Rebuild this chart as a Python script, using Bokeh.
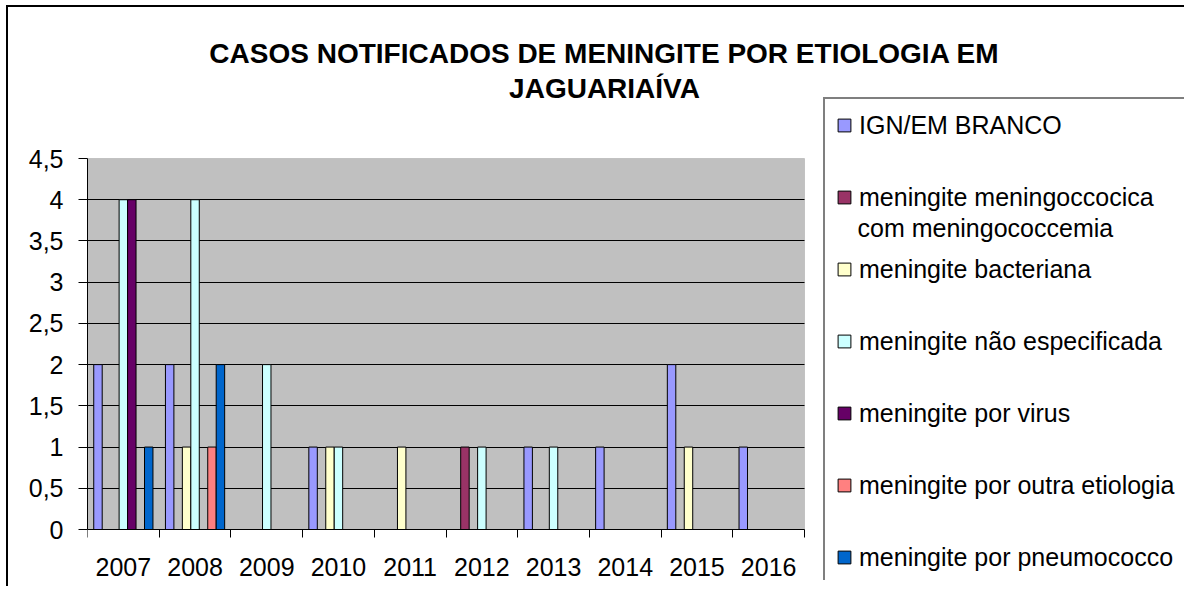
from bokeh.plotting import figure
from bokeh.models import (Range1d, FixedTicker, CustomJSTickFormatter, Label,
                          BoxAnnotation, ColumnDataSource)
from bokeh.transform import dodge
from bokeh.embed import file_html
from bokeh.resources import INLINE

# ---------------- data ----------------
years = ["2007", "2008", "2009", "2010", "2011", "2012", "2013", "2014", "2015", "2016"]
series_names = [
    "IGN/EM BRANCO",
    "meningite meningoccocica",
    "meningite bacteriana",
    "meningite não especificada",
    "meningite por virus",
    "meningite por outra etiologia",
    "meningite por pneumococco",
]
series_name_2nd_line = "com meningococcemia"   # second line of legend entry 2
ign = [2, 2, 0, 1, 0, 0, 1, 1, 2, 1]
meningococcica = [0, 0, 0, 0, 0, 1, 0, 0, 0, 0]
bacteriana = [0, 1, 0, 1, 1, 0, 0, 0, 1, 0]
nao_especificada = [4, 4, 2, 1, 0, 1, 1, 0, 0, 0]
por_virus = [4, 0, 0, 0, 0, 0, 0, 0, 0, 0]
outra_etiologia = [0, 1, 0, 0, 0, 0, 0, 0, 0, 0]
pneumococco = [1, 2, 0, 0, 0, 0, 0, 0, 0, 0]
y_ticks = [0, 0.5, 1, 1.5, 2, 2.5, 3, 3.5, 4, 4.5]
title_lines = ["CASOS NOTIFICADOS DE MENINGITE POR ETIOLOGIA EM", "JAGUARIAÍVA"]

colors = ["#9999FF", "#993366", "#FFFFCC", "#CCFFFF", "#660066", "#FF8080", "#0066CC"]
FONT = "Liberation Sans"

series = [ign, meningococcica, bacteriana, nao_especificada, por_virus,
          outra_etiologia, pneumococco]
keys = ["s%d" % i for i in range(len(series))]
data = {"x": [i + 0.5 for i in range(len(years))]}
for k, s in zip(keys, series):
    data[k] = s
src = ColumnDataSource(data)

# ---------------- layout geometry (pixels) ----------------
W, H = 1184, 586
FL, FB = 87, 580            # frame left / bottom (frame covers the rest)
PA_R, PA_T, PA_B = 804, 158, 529   # plot-area right, top, bottom
ncat = len(years)
ymax = y_ticks[-1]
px_x = (PA_R - FL) / ncat
px_y = (PA_B - PA_T) / ymax
x_end = ncat + (W - PA_R) / px_x
y_start = -(FB - PA_B) / px_y
y_end = ymax + PA_T / px_y

p = figure(width=W, height=H, output_backend="svg", toolbar_location=None,
           x_range=Range1d(0, x_end), y_range=Range1d(y_start, y_end),
           min_border_left=FL, min_border_right=0, min_border_top=0,
           min_border_bottom=H - FB,
           background_fill_alpha=0, border_fill_alpha=0,
           outline_line_color=None)
p.styles = {"box-shadow": "inset 6px 5px 0 0 white, inset 8px 7px 0 0 black"}
p.title.text = ""

# grey plot area
p.add_layout(BoxAnnotation(left=0, right=ncat, bottom=0, top=ymax,
                           fill_color="#C0C0C0", fill_alpha=1,
                           line_color="#808080", line_width=1, level="image"))

bw = 0.118
n = len(series)
for i, (k, c, name) in enumerate(zip(keys, colors, series_names)):
    p.vbar(x=dodge("x", (i - (n - 1) / 2) * bw, range=p.x_range), top=k,
           width=bw, source=src, fill_color=c, line_color="black",
           line_width=1, legend_label=name)

# y axis
p.yaxis.ticker = FixedTicker(ticks=y_ticks)
p.yaxis.formatter = CustomJSTickFormatter(code="return tick.toString().replace('.', ',')")
p.yaxis.bounds = (0, ymax)
p.yaxis.major_tick_out = 9
p.yaxis.major_tick_in = 0
p.yaxis.minor_tick_out = 0
p.yaxis.minor_tick_in = 0
p.yaxis.major_label_standoff = 15
p.yaxis.axis_line_color = "black"
p.yaxis.major_tick_line_color = "black"

# x axis (labels centred on categories, ticks at category boundaries)
p.xaxis.fixed_location = 0
p.xaxis.bounds = (0, ncat)
p.xaxis.ticker = FixedTicker(ticks=[i + 0.5 for i in range(ncat)],
                             minor_ticks=list(range(ncat + 1)))
p.xaxis.formatter = CustomJSTickFormatter(args=dict(years=years),
                                          code="return years[Math.floor(tick)]")
p.xaxis.major_tick_out = 0
p.xaxis.major_tick_in = 0
p.xaxis.minor_tick_out = 8
p.xaxis.minor_tick_in = 0
p.xaxis.minor_tick_line_color = "black"
p.xaxis.major_label_standoff = 20
p.xaxis.axis_line_color = "black"

for ax in (p.xaxis, p.yaxis):
    ax.major_label_text_font = FONT
    ax.major_label_text_font_size = "25px"
    ax.major_label_text_color = "black"

p.xgrid.visible = False
p.ygrid.ticker = FixedTicker(ticks=y_ticks[1:-1])
p.ygrid.cross_bounds = (0, ncat)
p.ygrid.grid_line_color = "black"
p.ygrid.grid_line_width = 1

# title (centred on the whole chart) - screen units relative to the frame
for txt, base in zip(title_lines, [53, 88]):
    p.add_layout(Label(x=604 - FL, y=FB - base, x_units="screen", y_units="screen",
                       text=txt, text_align="center", text_baseline="alphabetic",
                       text_font=FONT, text_font_style="bold",
                       text_font_size="28px", text_color="black"))

# second line of the two-line legend entry
p.add_layout(Label(x=857 - FL, y=FB - 227, x_units="screen", y_units="screen",
                   text=series_name_2nd_line, text_align="left",
                   text_baseline="middle", text_font=FONT,
                   text_font_size="25px", text_color="black", level="overlay"))

# legend (transparent box: nothing else is drawn underneath it)
leg = p.legend[0]
leg.location = (736, -5)
leg.padding = 11
leg.spacing = 42
leg.glyph_width = 16
leg.glyph_height = 16
leg.label_height = 30
leg.label_standoff = 7
leg.margin = 0
leg.label_text_font = FONT
leg.label_text_font_size = "25px"
leg.label_text_color = "black"
leg.border_line_color = "black"
leg.border_line_width = 2
leg.background_fill_alpha = 0

open("out.html", "w").write(file_html(p, INLINE))
